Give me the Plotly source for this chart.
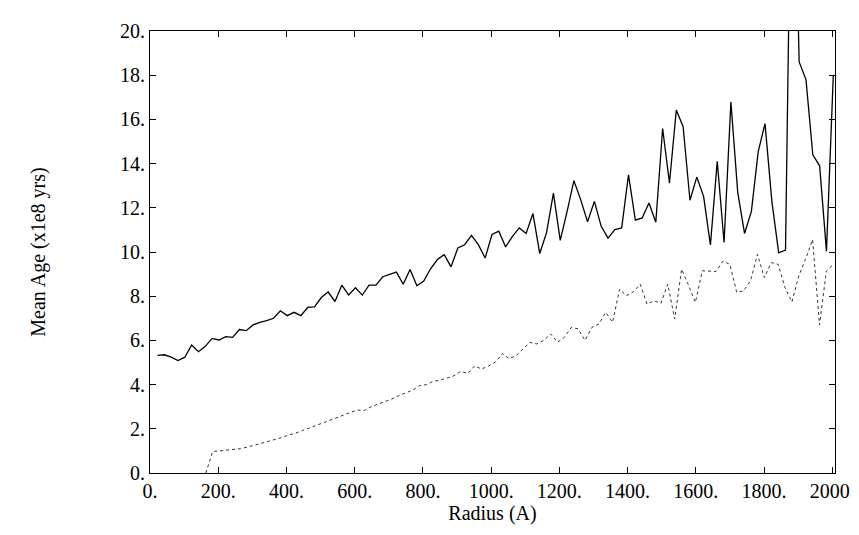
import numpy as np
import plotly.graph_objects as go

# solid curve
age_solid = [5.32, 5.35, 5.24, 5.09, 5.24, 5.79, 5.49, 5.73, 6.09, 6.02,
             6.17, 6.14, 6.49, 6.44, 6.70, 6.82, 6.89, 7.00, 7.34, 7.12,
             7.27, 7.12, 7.49, 7.52, 7.94, 8.19, 7.76, 8.50, 8.06, 8.38,
             8.05, 8.50, 8.50, 8.88, 8.99, 9.09, 8.54, 9.21, 8.47, 8.69,
             9.24, 9.66, 9.88, 9.33, 10.18, 10.33, 10.75, 10.33, 9.73,
             10.79, 10.94, 10.23, 10.71, 11.09, 10.84, 11.74, 9.93, 10.89, 12.66,
             10.53, 11.83, 13.23, 12.36, 11.37, 12.29, 11.16, 10.63, 11.01, 11.09,
             13.49, 11.44, 11.54, 12.22, 11.35, 15.59, 13.12, 16.42, 15.67, 12.34,
             13.39, 12.52, 10.32, 14.10, 10.43, 16.79, 12.70, 10.84, 11.84, 14.54,
             15.81, 12.29, 9.96, 10.09, 32.0, 18.6, 17.8, 14.4, 13.9, 10.03, 17.98]

# dotted curve
age_dotted = [None, None, None, None, None, None, None, 0.0,
              0.97, 1.0, 1.03, 1.07, 1.1, 1.17, 1.25, 1.33, 1.42, 1.5,
              1.6, 1.72, 1.8, 1.92, 2.02, 2.15, 2.27, 2.38, 2.5, 2.62,
              2.75, 2.85, 2.83, 3.0, 3.12, 3.22, 3.35, 3.5, 3.62, 3.75,
              3.95, 4.0, 4.15, 4.2, 4.3, 4.4, 4.6, 4.5, 4.85, 4.7, 4.85,
              5.02, 5.40, 5.17, 5.31, 5.6, 5.91, 5.84, 6.0, 6.29, 5.92,
              6.14, 6.59, 6.52, 6.00, 6.59, 6.74, 7.27, 6.82, 8.32, 8.02,
              8.2, 8.54, 7.64, 7.79, 7.68, 8.54, 6.97, 9.22, 8.5, 7.72,
              9.15, 9.15, 9.12, 9.59, 9.44, 8.17, 8.24, 8.7, 9.89, 8.84,
              9.52, 9.44, 8.39, 7.74, 8.92, 9.7, 10.56, 6.7, 9.14, 9.44]

# radius grid (A), first and last sample positions
r_first, r_last = 22, 2003

xticks = [0, 200, 400, 600, 800, 1000, 1200, 1400, 1600, 1800, 2000]
yticks = [0, 2, 4, 6, 8, 10, 12, 14, 16, 18, 20]

fig = go.Figure()
fig.add_trace(go.Scatter(x=np.linspace(r_first, r_last, len(age_solid)), y=age_solid,
                         mode="lines", line=dict(color="black", width=1.3)))
fig.add_trace(go.Scatter(x=np.linspace(r_first, r_last, len(age_dotted)), y=age_dotted,
                         mode="lines", line=dict(color="#333", width=1, dash="dot")))

axis_common = dict(showgrid=False, zeroline=False, showline=True, linecolor="black",
                   linewidth=1.2, mirror="ticks", ticks="inside", ticklen=6,
                   tickcolor="black", tickfont=dict(size=20, color="black"))

fig.update_xaxes(range=[0, 2008], tickvals=xticks,
                 ticktext=[f"{v}." for v in xticks],
                 title=dict(text="Radius (A)", font=dict(size=20), standoff=4),
                 **axis_common)
fig.update_yaxes(range=[0, 20], tickvals=yticks,
                 ticktext=[f"{v}." for v in yticks],
                 title=dict(text="Mean Age (x1e8 yrs)", font=dict(size=20), standoff=68),
                 **axis_common)

fig.update_layout(width=859, height=535, showlegend=False,
                  margin=dict(l=142, r=24, t=20, b=70),
                  paper_bgcolor="white", plot_bgcolor="white",
                  font=dict(family="Liberation Serif", color="black"))
fig.write_html("out.html")
